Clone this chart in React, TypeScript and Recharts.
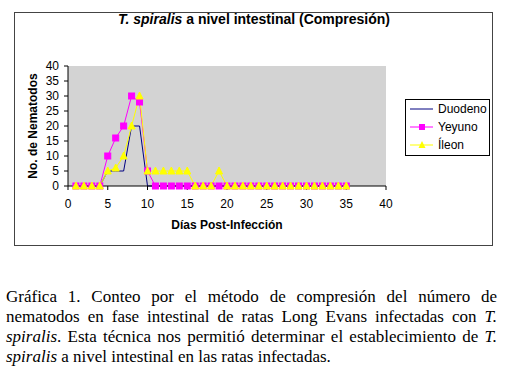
import React from 'react';
import { LineChart, Line, XAxis, YAxis, CartesianGrid, Legend, Label } from 'recharts';

const days = [1, 2, 3, 4, 5, 6, 7, 8, 9, 10, 11, 12, 13, 14, 15, 16, 17, 18, 19, 20, 21, 22, 23, 24, 25, 26, 27, 28, 29, 30, 31, 32, 33, 34, 35];
const duodeno = [0, 0, 0, 0, 5, 5, 5, 20, 20, 0, 0, 0, 0, 0, 0, 0, 0, 0, 0, 0, 0, 0, 0, 0, 0, 0, 0, 0, 0, 0, 0, 0, 0, 0, 0];
const yeyuno = [0, 0, 0, 0, 10, 16, 20, 30, 28, 5, 0, 0, 0, 0, 0, 0, 0, 0, 0, 0, 0, 0, 0, 0, 0, 0, 0, 0, 0, 0, 0, 0, 0, 0, 0];
const ileon = [0, 0, 0, 0, 5, 6, 10, 20, 30, 5, 5, 5, 5, 5, 5, 0, 0, 0, 5, 0, 0, 0, 0, 0, 0, 0, 0, 0, 0, 0, 0, 0, 0, 0, 0];
const xTicks = [0, 5, 10, 15, 20, 25, 30, 35, 40];
const yTicks = [0, 5, 10, 15, 20, 25, 30, 35, 40];

const data = days.map((d, i) => ({ day: d, duodeno: duodeno[i], yeyuno: yeyuno[i], ileon: ileon[i] }));

const sans = 'Liberation Sans, Arial, sans-serif';
const axisFont = { fontFamily: sans, fontSize: 12, fill: '#000' };

function Square(props: any) {
  const { cx, cy, index } = props;
  return <rect key={'sq' + index} x={cx - 3} y={cy - 3} width={6} height={6} fill="#FF00FF" stroke="#FF00FF" />;
}

function Triangle(props: any) {
  const { cx, cy, index } = props;
  return (
    <polygon key={'tr' + index} points={`${cx},${cy - 4} ${cx - 3.5},${cy + 3} ${cx + 3.5},${cy + 3}`} fill="#FFFF00" stroke="#FFFF00" />
  );
}

function LegendBox() {
  const rows = [
    { name: 'Duodeno', color: '#000080', mark: null },
    { name: 'Yeyuno', color: '#FF00FF', mark: 'square' },
    { name: 'Íleon', color: '#FFFF00', mark: 'triangle' },
  ];
  return (
    <div style={{ border: '1px solid #000', background: '#fff', width: 85, height: 57, boxSizing: 'border-box' }}>
      {rows.map((r) => (
        <div key={r.name} style={{ display: 'flex', alignItems: 'center', height: 18 }}>
          <svg width={28} height={10} style={{ marginLeft: 3 }}>
            <line x1={1} y1={5} x2={24} y2={5} stroke={r.color} strokeWidth={1} />
            {r.mark === 'square' && <rect x={10} y={2} width={6} height={6} fill={r.color} />}
            {r.mark === 'triangle' && <polygon points="13,1 9.5,8 16.5,8" fill={r.color} />}
          </svg>
          <span style={{ fontFamily: sans, fontSize: 12, color: '#000', marginLeft: 1 }}>{r.name}</span>
        </div>
      ))}
    </div>
  );
}

const captionLines = [
  <>Gráfica 1. Conteo por el método de compresión del número de</>,
  <>nematodos en fase intestinal de ratas Long Evans infectadas con <i>T.</i></>,
  <><i>spiralis</i>. Esta técnica nos permitió determinar el establecimiento de <i>T.</i></>,
  <><i>spiralis</i> a nivel intestinal en las ratas infectadas.</>,
];

export default function App() {
  return (
    <div style={{ position: 'absolute', left: 0, top: 0, width: 508, height: 384, background: '#fff', overflow: 'hidden' }}>
      <div style={{ position: 'absolute', left: 14, top: 12, width: 479, height: 234, border: '1px solid #444', boxSizing: 'border-box' }} />
      <div
        style={{
          position: 'absolute',
          left: 0,
          top: 11,
          width: 508,
          textAlign: 'center',
          fontFamily: sans,
          fontSize: 14,
          fontWeight: 'bold',
          color: '#000',
        }}
      >
        <i>T. spiralis</i> a nivel intestinal (Compresión)
      </div>
      <div style={{ position: 'absolute', left: 0, top: 0 }}>
        <LineChart width={508} height={250} data={data} margin={{ top: 66, right: 122, bottom: 34, left: 28 }}>
          <CartesianGrid fill="#D3D3D3" horizontal={false} vertical={false} />
          <XAxis
            dataKey="day"
            type="number"
            domain={[0, 40]}
            ticks={xTicks}
            height={30}
            axisLine={{ stroke: '#000' }}
            tickLine={{ stroke: '#000' }}
            tickSize={4}
            tickMargin={9}
            tick={axisFont}
            interval={0}
          >
            <Label
              content={({ viewBox }: any) => (
                <text
                  x={viewBox.x + viewBox.width / 2}
                  y={229}
                  textAnchor="middle"
                  style={{ fontFamily: sans, fontSize: 12, fontWeight: 'bold' }}
                  fill="#000"
                >
                  Días Post-Infección
                </text>
              )}
            />
          </XAxis>
          <YAxis
            type="number"
            domain={[0, 40]}
            ticks={yTicks}
            width={40}
            axisLine={{ stroke: '#000' }}
            tickLine={{ stroke: '#000' }}
            tickSize={4}
            tickMargin={5}
            tick={axisFont}
            interval={0}
          >
            <Label
              content={({ viewBox }: any) => (
                <text
                  x={0}
                  y={0}
                  transform={`translate(37, ${viewBox.y + viewBox.height / 2}) rotate(-90)`}
                  textAnchor="middle"
                  style={{ fontFamily: sans, fontSize: 12, fontWeight: 'bold' }}
                  fill="#000"
                >
                  No. de Nematodos
                </text>
              )}
            />
          </YAxis>
          <Line dataKey="duodeno" name="Duodeno" stroke="#000080" strokeWidth={1} dot={false} isAnimationActive={false} />
          <Line dataKey="yeyuno" name="Yeyuno" stroke="#FF00FF" strokeWidth={1} dot={Square} isAnimationActive={false} />
          <Line dataKey="ileon" name="Íleon" stroke="#FFFF00" strokeWidth={1} dot={Triangle} isAnimationActive={false} />
          <Legend
            layout="vertical"
            align="center"
            verticalAlign="middle"
            content={() => <LegendBox />}
            wrapperStyle={{ left: 405, top: 99, width: 85, height: 57 }}
          />
        </LineChart>
      </div>
      <div
        style={{
          position: 'absolute',
          left: 6,
          top: 287,
          width: 491,
          fontFamily: 'Liberation Serif, "Times New Roman", serif',
          fontSize: 17,
          lineHeight: '20px',
          color: '#000',
          whiteSpace: 'nowrap',
        }}
      >
        {captionLines.map((l, i) => (
          <div key={i} style={{ textAlign: 'justify', textAlignLast: i < captionLines.length - 1 ? 'justify' : 'left' }}>
            {l}
          </div>
        ))}
      </div>
    </div>
  );
}
